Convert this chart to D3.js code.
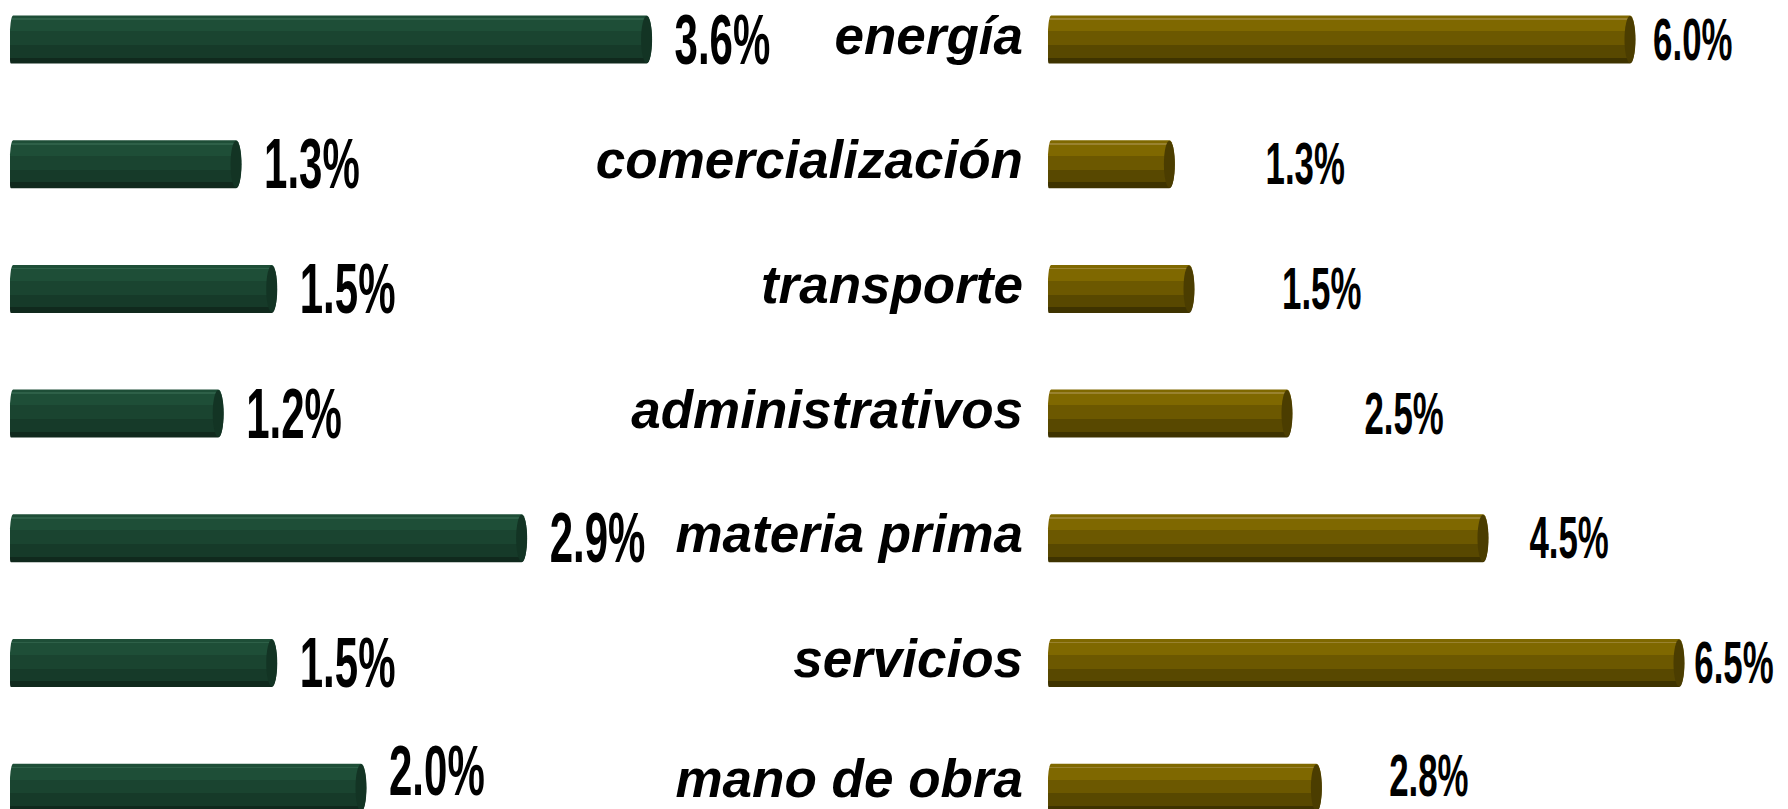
<!DOCTYPE html>
<html><head><meta charset="utf-8">
<script src="https://cdn.jsdelivr.net/npm/d3@7"></script>
<style>html,body{margin:0;padding:0;background:#fff;overflow:hidden}</style>
</head><body>
<svg id="chart" width="1788" height="809"></svg>
<script>
const categories = ["energía","comercialización","transporte","administrativos","materia prima","servicios","mano de obra"];
const greenValues = [3.6, 1.3, 1.5, 1.2, 2.9, 1.5, 2.0];
const goldValues  = [6.0, 1.3, 1.5, 2.5, 4.5, 6.5, 2.8];
const greenLabels = ["3.6%","1.3%","1.5%","1.2%","2.9%","1.5%","2.0%"];
const goldLabels  = ["6.0%","1.3%","1.5%","2.5%","4.5%","6.5%","2.8%"];

const svg = d3.select("#chart");
const defs = svg.append("defs");

function bandGrad(id, c){
  const g = defs.append("linearGradient").attr("id", id).attr("x1",0).attr("y1",0).attr("x2",0).attr("y2",1);
  const stops = [
    [0, c[0]],[0.06,c[0]],[0.06,c[4]],[0.09,c[4]],[0.09,c[0]],
    [0.33,c[0]],[0.33,c[1]],[0.62,c[1]],[0.62,c[2]],[0.88,c[2]],[0.88,c[3]],[1,c[3]]
  ];
  stops.forEach(s => g.append("stop").attr("offset", s[0]).attr("stop-color", s[1]));
}
bandGrad("gGreen", ["#1e4e37","#1a4430","#163a29","#10291d","#2e6048"]);
bandGrad("gGold",  ["#7f6800","#6c5800","#584800","#3e3300","#998230"]);

const y = d3.scalePoint().domain(categories).range([39.5, 787.7]);
const barH = 48;
const xGreen = d3.scaleLinear().domain([0, 1]).range([10, 188.5]);
const xGold  = d3.scaleLinear().domain([0, 1]).range([1048, 1146]);
const xGoldLabel = d3.scaleLinear().domain([0, 6.5]).range([1198, 1734]);

function barPath(x0, x1, cy){
  const t = cy - barH/2, b = cy + barH/2, rx = 6;
  const p = d3.path();
  p.moveTo(x0 + 3, t);
  p.lineTo(x1 - rx, t);
  p.bezierCurveTo(x1 + 1, t, x1 + 1, b, x1 - rx, b);
  p.lineTo(x0 + 1, b);
  p.quadraticCurveTo(x0, b, x0, b - 4);
  p.lineTo(x0, t + 14);
  p.quadraticCurveTo(x0 + 1, t, x0 + 3, t);
  p.closePath();
  return p.toString();
}

function drawSeries(values, xs, grad, capColor, cls){
  const g = svg.append("g").attr("class", cls);
  const rows = g.selectAll("g").data(categories).join("g");
  rows.append("path")
    .attr("d", (d,i) => barPath(xs(0), xs(values[i]), y(d)))
    .attr("fill", `url(#${grad})`);
  rows.append("ellipse")
    .attr("cx", (d,i) => xs(values[i]) - 6)
    .attr("cy", d => y(d))
    .attr("rx", 5.5).attr("ry", barH/2 - 0.5)
    .attr("fill", capColor);
}
drawSeries(greenValues, xGreen, "gGreen", "#133424", "green");
drawSeries(goldValues, xGold, "gGold", "#4b3d00", "gold");

// category labels
svg.append("g").selectAll("text").data(categories).join("text")
  .attr("x", 1023).attr("y", d => Math.min(y(d) + 14, 797))
  .attr("text-anchor", "end")
  .attr("font-family", "'Liberation Sans', Arial, sans-serif")
  .attr("font-weight", "bold").attr("font-style", "italic")
  .attr("font-size", 53)
  .attr("fill", "#000")
  .text(d => d);

// green value labels (condensed)
svg.append("g").selectAll("text").data(categories).join("text")
  .attr("transform", (d,i) => `translate(${xGreen(greenValues[i]) + 22},${Math.min(y(d) + 24, 795)}) scale(0.6,1)`)
  .attr("font-family", "'Liberation Sans', Arial, sans-serif")
  .attr("font-weight", "bold").attr("font-size", 70)
  .attr("fill", "#000")
  .text((d,i) => greenLabels[i]);

// gold value labels
svg.append("g").selectAll("text").data(categories).join("text")
  .attr("transform", (d,i) => `translate(${xGoldLabel(goldValues[i])},${Math.min(y(d) + 20, 796)}) scale(0.58,1)`)
  .attr("text-anchor", "middle")
  .attr("font-family", "'Liberation Sans', Arial, sans-serif")
  .attr("font-weight", "bold").attr("font-size", 60)
  .attr("fill", "#000")
  .text((d,i) => goldLabels[i]);
</script>
</body></html>
